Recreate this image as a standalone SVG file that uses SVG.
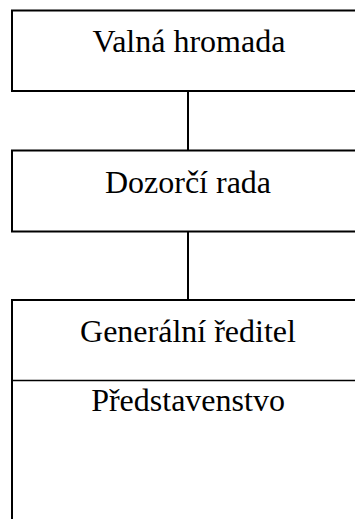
<svg xmlns="http://www.w3.org/2000/svg" width="355" height="519" viewBox="0 0 355 519">
  <style>
    .box { fill: #ffffff; stroke: #000000; stroke-width: 2; }
    .rule { stroke: #000000; stroke-width: 1.6; fill: none; }
    .link { stroke: #000000; stroke-width: 2; fill: none; }
    .label { font-size: 32px; fill: #000000; text-anchor: middle; }
  </style>
  <rect x="0" y="0" width="355" height="519" fill="#ffffff"/>

  <!-- connectors between the levels -->
  <g id="connectors">
    <line class="link" x1="188" y1="91" x2="188" y2="150.5"/>
    <line class="link" x1="188" y1="231.5" x2="188" y2="300"/>
  </g>

  <g font-family="'Liberation Serif', 'Times New Roman', 'DejaVu Serif', serif">
    <g id="valna-hromada">
      <rect class="box" x="12" y="10.5" width="354" height="80.5"/>
      <text class="label" x="189" y="52">Valná hromada</text>
    </g>

    <g id="dozorci-rada">
      <rect class="box" x="12" y="150.5" width="354" height="81"/>
      <text class="label" x="188" y="193">Dozorčí rada</text>
    </g>

    <g id="generalni-reditel">
      <rect class="box" x="12" y="300" width="354" height="240"/>
      <text class="label" x="188" y="341.5">Generální ředitel</text>
      <line class="rule" x1="12" y1="380.5" x2="366" y2="380.5"/>
      <text class="label" x="188" y="411">Představenstvo</text>
    </g>
  </g>
</svg>
